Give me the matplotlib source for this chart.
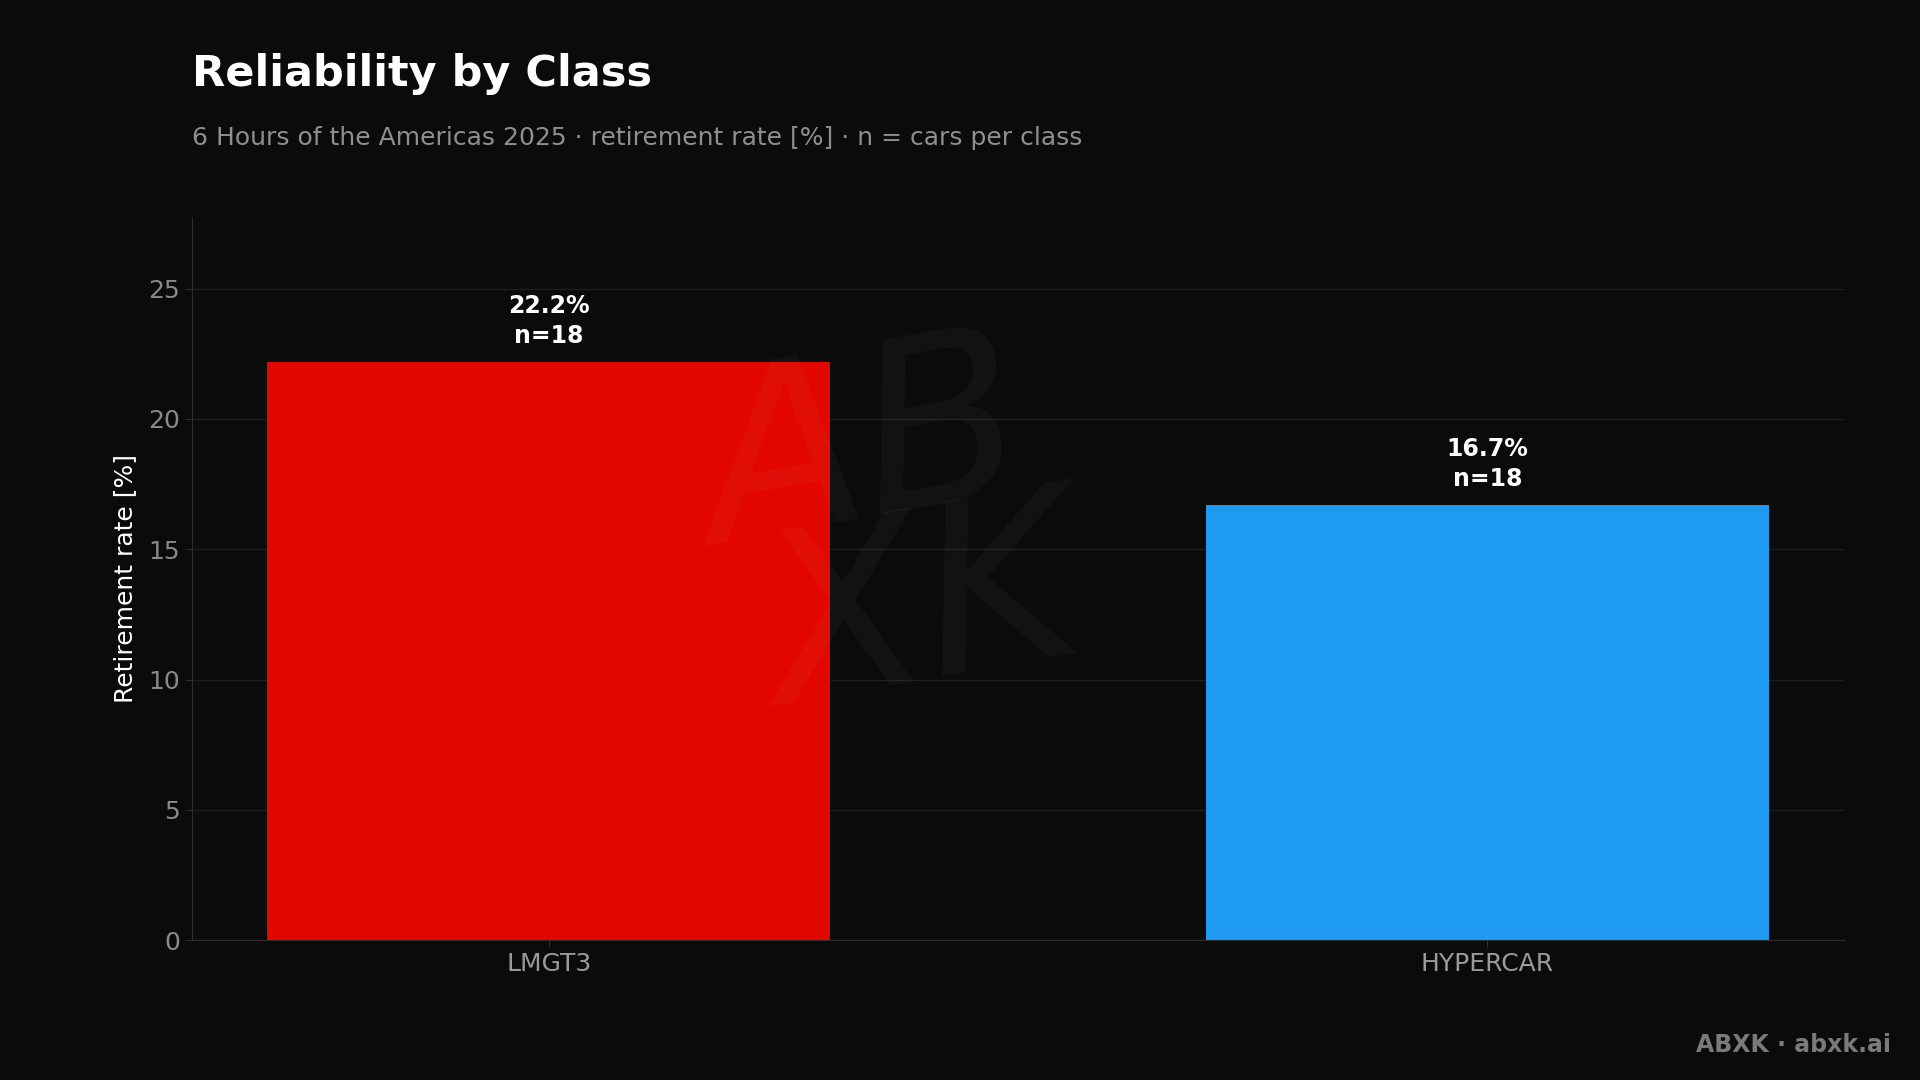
import matplotlib
matplotlib.use("Agg")
import matplotlib.pyplot as plt

# data
classes = ["LMGT3", "HYPERCAR"]
retire_rate = [22.2, 16.7]   # retirement rate [%]
cars = [18, 18]              # n = cars per class
bar_colors = ["#E10600", "#1E9BF0"]

BG = "#0B0B0B"

plt.rcParams["font.family"] = ["DejaVu Sans"]

fig = plt.figure(figsize=(19.2, 10.8), dpi=100, facecolor=BG)
ax = fig.add_axes([0.1, 0.1296, 0.8604, 0.6694], facecolor=BG)

x = range(len(classes))
bars = ax.bar(x, retire_rate, width=0.6, color=bar_colors, zorder=2)

for b, v, n in zip(bars, retire_rate, cars):
    ax.annotate(f"{v:.1f}%\nn={n}", xy=(b.get_x() + b.get_width() / 2, v),
                xytext=(0, 10), textcoords="offset points",
                ha="center", va="bottom", color="white", fontsize=17,
                fontweight="bold", linespacing=1.3, zorder=4)

ax.set_ylim(0, max(retire_rate) * 1.25)
ax.set_xticks(list(x))
ax.set_xticklabels(classes)
ax.set_ylabel("Retirement rate [%]", color="white", fontsize=18, labelpad=8)

ax.grid(axis="y", color="#1f1f1f", linewidth=1, zorder=0)
ax.set_axisbelow(True)
for side in ["top", "right"]:
    ax.spines[side].set_visible(False)
for side in ["left", "bottom"]:
    ax.spines[side].set_color("#2e2e2e")
ax.tick_params(labelsize=18, length=5)
ax.tick_params(axis="x", colors="#2e2e2e", labelcolor="#9a9a9a")
ax.tick_params(axis="y", colors="#2e2e2e", labelcolor="#8a8a8a")

# faint watermark in the middle of the plot
fig.text(0.45, 0.58, "AB", fontsize=170, style="italic", color="white",
         alpha=0.035, ha="center", va="center", rotation=10, zorder=3)
fig.text(0.48, 0.43, "XK", fontsize=170, style="italic", color="white",
         alpha=0.035, ha="center", va="center", rotation=10, zorder=3)

fig.text(0.1, 0.92, "Reliability by Class", color="white", fontsize=31,
         fontweight="bold", ha="left", va="baseline")
fig.text(0.1, 0.866, "6 Hours of the Americas 2025 \u00b7 retirement rate [%] \u00b7 n = cars per class",
         color="#8f8f8f", fontsize=18, ha="left", va="baseline")
fig.text(0.985, 0.026, "ABXK \u00b7 abxk.ai", color="#7a7a7a", fontsize=17,
         fontweight="bold", ha="right", va="baseline")

fig.savefig("out.png", dpi=100, facecolor=BG)
